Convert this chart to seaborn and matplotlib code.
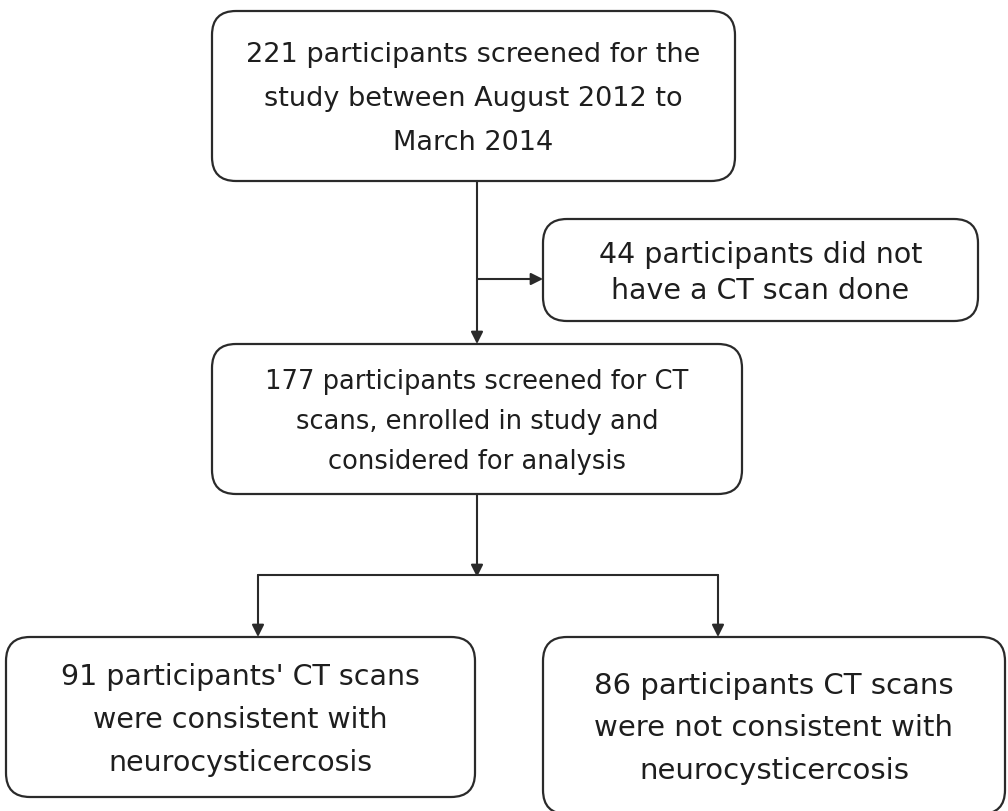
import matplotlib
matplotlib.use("Agg")
import matplotlib.pyplot as plt
import seaborn as sns
from matplotlib.patches import FancyBboxPatch

sns.set_theme(style="white")
plt.rcParams['font.family'] = ['DejaVu Sans']

# Flowchart content
box_texts = [
    "221 participants screened for the\nstudy between August 2012 to\nMarch 2014",
    "44 participants did not\nhave a CT scan done",
    "177 participants screened for CT\nscans, enrolled in study and\nconsidered for analysis",
    "91 participants' CT scans\nwere consistent with\nneurocysticercosis",
    "86 participants CT scans\nwere not consistent with\nneurocysticercosis",
]
# box geometry in pixel coords: x0, y0, x1, y1
box_x0 = [212, 543, 212, 6, 543]
box_y0 = [12, 220, 345, 638, 638]
box_x1 = [735, 978, 742, 475, 1005]
box_y1 = [182, 322, 495, 798, 815]
font_sizes = [19.5, 20.5, 18.5, 20.5, 21]
line_sp = [1.9, 1.4, 1.72, 1.7, 1.68]

W, H = 1008, 812
fig = plt.figure(figsize=(W / 100, H / 100), dpi=100)
ax = fig.add_axes([0, 0, 1, 1])
ax.set_xlim(0, W)
ax.set_ylim(H, 0)
ax.axis("off")

edge = "#2a2a2a"
for x0, y0, x1, y1, t, fs, ls in zip(box_x0, box_y0, box_x1, box_y1, box_texts, font_sizes, line_sp):
    r = 24
    p = FancyBboxPatch((x0 + r, y0 + r), (x1 - x0) - 2 * r, (y1 - y0) - 2 * r,
                       boxstyle=f"round,pad={r},rounding_size={r}",
                       linewidth=1.6, edgecolor=edge, facecolor="white")
    ax.add_patch(p)
    ax.text((x0 + x1) / 2, (y0 + y1) / 2 + 2, t, ha="center", va="center",
            fontsize=fs, color="#1e1e1e", linespacing=ls)

arrow_kw = dict(arrowstyle="-|>", color=edge, lw=1.5, mutation_scale=18,
                shrinkA=0, shrinkB=0)

def arrow(x0, y0, x1, y1):
    ax.annotate("", xy=(x1, y1), xytext=(x0, y0), arrowprops=arrow_kw)

# connectors
arrow(477, 182, 477, 345)
arrow(477, 280, 543, 280)
arrow(477, 495, 477, 578)
ax.plot([258, 718], [576, 576], color=edge, lw=1.5)
arrow(258, 576, 258, 638)
arrow(718, 576, 718, 638)

fig.savefig("out.png", dpi=100, facecolor="white")
